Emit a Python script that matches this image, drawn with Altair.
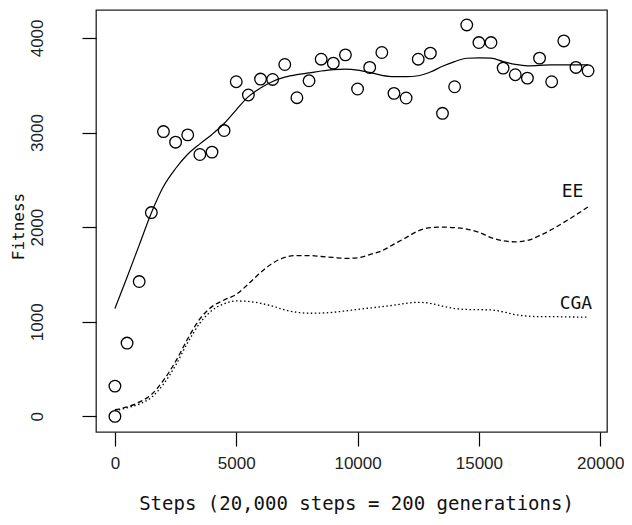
import altair as alt
import pandas as pd

# ---- data ----
steps = [0, 500, 1000, 1500, 2000, 2500, 3000, 3500, 4000, 4500,
         5000, 5500, 6000, 6500, 7000, 7500, 8000, 8500, 9000, 9500,
         10000, 10500, 11000, 11500, 12000, 12500, 13000, 13500, 14000, 14500,
         15000, 15500, 16000, 16500, 17000, 17500, 18000, 18500, 19000, 19500]

pt_steps = [0, 0, 500, 1000, 1500, 2000, 2500, 3000, 3500, 4000, 4500,
            5000, 5500, 6000, 6500, 7000, 7500, 8000, 8500, 9000, 9500,
            10000, 10500, 11000, 11500, 12000, 12500, 13000, 13500, 14000, 14500,
            15000, 15500, 16000, 16500, 17000, 17500, 18000, 18500, 19000, 19500]
pt_fitness = [0, 320, 775, 1425, 2154, 3010, 2898, 2975, 2768, 2793, 3021,
              3537, 3397, 3565, 3561, 3719, 3368, 3547, 3775, 3733, 3821,
              3460, 3688, 3846, 3414, 3365, 3775, 3839, 3203, 3484, 4137,
              3951, 3951, 3681, 3611, 3575, 3786, 3537, 3968, 3688, 3653]

smooth = [1140, 1470, 1810, 2150, 2430, 2620, 2770, 2880, 2980, 3095,
          3240, 3380, 3470, 3540, 3585, 3612, 3630, 3650, 3665, 3670,
          3660, 3635, 3605, 3590, 3590, 3600, 3640, 3700, 3750, 3785,
          3790, 3786, 3750, 3720, 3705, 3710, 3715, 3716, 3716, 3716]

ee = [70, 100, 150, 230, 380, 580, 820, 1030, 1160, 1230,
      1290, 1400, 1520, 1620, 1680, 1700, 1700, 1690, 1680, 1670,
      1675, 1710, 1750, 1820, 1890, 1960, 1995, 2000, 1995, 1980,
      1945, 1890, 1855, 1845, 1860, 1910, 1975, 2050, 2130, 2214]

cga = [60, 90, 130, 200, 340, 540, 780, 985, 1120, 1190,
       1220, 1215, 1195, 1165, 1125, 1100, 1090, 1092, 1100, 1115,
       1130, 1145, 1160, 1175, 1195, 1205, 1195, 1165, 1140, 1130,
       1128, 1125, 1105, 1075, 1060, 1055, 1055, 1052, 1050, 1049]

label_text = ["EE", "CGA"]
label_x = [18860, 19000]
label_y = [2370, 1190]

x_ticks = [0, 5000, 10000, 15000, 20000]
y_ticks = [0, 1000, 2000, 3000, 4000]

# ---- tables ----
pts = pd.DataFrame({"x": pt_steps, "y": pt_fitness})
lines = pd.DataFrame({"x": steps, "smooth": smooth, "ee": ee, "cga": cga})
labels = pd.DataFrame({"x": label_x, "y": label_y, "t": label_text})

x_scale = alt.Scale(domain=[-780, 20280], nice=False, zero=False)
y_scale = alt.Scale(domain=[-165, 4295], nice=False, zero=False)

x_axis = alt.Axis(
    values=x_ticks, format="d", grid=False, domain=False,
    tickSize=14, tickColor="black", tickWidth=1.2,
    labelFont="Liberation Sans", labelFontSize=17, labelColor="#222",
    labelPadding=9, labelFlush=False,
    title="Steps (20,000 steps = 200 generations)",
    titleFont="DejaVu Sans Mono", titleFontSize=19, titleFontWeight="normal",
    titleColor="#111", titleX=260, titleY=71, titleBaseline="middle", titleAlign="center",
)
y_axis = alt.Axis(
    values=y_ticks, format="d", grid=False, domain=False,
    tickSize=14, tickColor="black", tickWidth=1.2,
    labelFont="Liberation Sans", labelFontSize=17, labelColor="#222",
    labelAngle=270, labelAlign="center", labelBaseline="bottom",
    labelPadding=36, labelFlush=False,
    title="Fitness",
    titleFont="DejaVu Sans Mono", titleFontSize=16, titleFontWeight="normal",
    titleColor="#111", titleAngle=270, titleX=-78, titleY=216,
    titleBaseline="middle", titleAlign="center",
)

X = alt.X("x:Q", scale=x_scale, axis=x_axis)
Y = alt.Y("y:Q", scale=y_scale, axis=y_axis)

points = alt.Chart(pts).mark_point(
    shape="circle", filled=False, color="black", size=135, strokeWidth=1.3, opacity=1
).encode(x=X, y=Y)

base_l = alt.Chart(lines)
solid = base_l.mark_line(color="black", strokeWidth=1.2, interpolate="monotone").encode(
    x=X, y=alt.Y("smooth:Q", scale=y_scale, axis=y_axis))
dashed = base_l.mark_line(color="black", strokeWidth=1.3, strokeDash=[5, 3],
                          interpolate="monotone").encode(
    x=X, y=alt.Y("ee:Q", scale=y_scale, axis=y_axis))
dotted = base_l.mark_line(color="black", strokeWidth=1.3, strokeDash=[1.5, 2.5],
                          interpolate="monotone").encode(
    x=X, y=alt.Y("cga:Q", scale=y_scale, axis=y_axis))

text = alt.Chart(labels).mark_text(
    font="DejaVu Sans Mono", fontSize=18, color="#111", align="center", baseline="middle"
).encode(x=X, y=Y, text="t:N")

chart = alt.layer(points, solid, dashed, dotted, text).properties(
    width=511, height=422,
    autosize=alt.AutoSizeParams(type="none"),
    padding={"left": 88, "top": 2, "right": 17, "bottom": 85},
).configure_view(stroke="#222", strokeWidth=1.3)

chart.save("out.html", embed_options={"renderer": "svg", "actions": False})
